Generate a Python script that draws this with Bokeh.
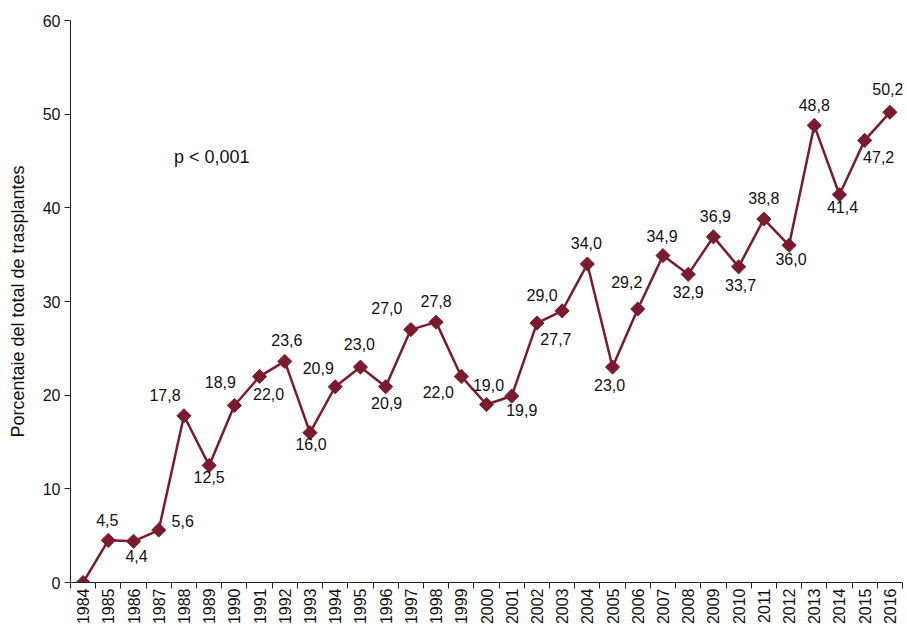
import numpy as np
from bokeh.plotting import figure
from bokeh.models import ColumnDataSource, Range1d, FixedTicker, Label
from bokeh.core.properties import value
from bokeh.embed import file_html
from bokeh.resources import INLINE

years = [1984, 1985, 1986, 1987, 1988, 1989, 1990, 1991, 1992, 1993, 1994,
         1995, 1996, 1997, 1998, 1999, 2000, 2001, 2002, 2003, 2004, 2005,
         2006, 2007, 2008, 2009, 2010, 2011, 2012, 2013, 2014, 2015, 2016]
percent = [0.0, 4.5, 4.4, 5.6, 17.8, 12.5, 18.9, 22.0, 23.6, 16.0, 20.9,
           23.0, 20.9, 27.0, 27.8, 22.0, 19.0, 19.9, 27.7, 29.0, 34.0, 23.0,
           29.2, 34.9, 32.9, 36.9, 33.7, 38.8, 36.0, 48.8, 41.4, 47.2, 50.2]
y_ticks = [0, 10, 20, 30, 40, 50, 60]
y_title = "Porcentaie del total de trasplantes"
p_value_text = "p < 0,001"

# label placement (screen pixel offsets), style only
label_dx = [0, -1, 3, 24, -19, 0, -14, 9, 2, 1, -17, -1, 1, -24, 0, -23, 2, 10,
            19, -20, -1, -3, -11, -1, 0, 2, 2, 0, 2, 0, 3, 14, -2]
label_dy = [0, -20, 15, -9, -21, 12, -23, 18, -21, 11, -19, -23, 16, -22, -21, 16, -20, 14,
            16, -16, -21, 18, -27, -20, 18, -21, 18, -21, 14, -20, 12, 17, -23]

labels = ["" if v == 0 else f"{v:.1f}".replace(".", ",") for v in percent]

COLOR = "#7A1B2E"
FONT = "Liberation Sans"

src = ColumnDataSource(dict(x=years, y=percent, lab=labels, dx=label_dx, dy=label_dy))

p = figure(width=905, height=627, output_backend="svg", toolbar_location=None,
           x_range=Range1d(years[0] - 0.5, years[-1] + 0.5),
           y_range=Range1d(y_ticks[0], y_ticks[-1]),
           min_border_left=70, min_border_top=20, min_border_right=3,
           min_border_bottom=10)
p.outline_line_color = None
p.xgrid.visible = False
p.ygrid.visible = False

p.line("x", "y", source=src, line_color=COLOR, line_width=2.5)
p.scatter("x", "y", source=src, marker="square", angle=np.pi / 4, size=10,
          fill_color=COLOR, line_color=COLOR)
p.text("x", "y", text="lab", source=src, x_offset="dx", y_offset="dy",
       text_align="center", text_baseline="middle",
       text_font=value(FONT), text_font_size="16px", text_color="#111111")

p.add_layout(Label(x=1989.1, y=45.4, text=p_value_text, text_align="center",
                   text_baseline="middle", text_font=FONT, text_font_size="18px",
                   text_color="#111111"))

# x axis
xa = p.xaxis[0]
xa.ticker = FixedTicker(ticks=years, minor_ticks=[y - 0.5 for y in years] + [years[-1] + 0.5])
xa.major_label_orientation = np.pi / 2
xa.major_tick_out = 0
xa.major_tick_in = 0
xa.minor_tick_out = 6
xa.minor_tick_in = 0
xa.minor_tick_line_color = "#222222"
xa.axis_line_color = "#222222"
xa.major_label_text_font = FONT
xa.major_label_text_font_size = "16px"
xa.major_label_text_color = "#111111"
xa.major_label_standoff = 0

ya = p.yaxis[0]
ya.ticker = FixedTicker(ticks=y_ticks)
ya.minor_tick_line_color = None
ya.major_tick_out = 6
ya.major_tick_in = 0
ya.axis_line_color = "#222222"
ya.major_tick_line_color = "#222222"
ya.major_label_text_font = FONT
ya.major_label_text_font_size = "16px"
ya.major_label_text_color = "#111111"
ya.major_label_standoff = 4
ya.axis_label = y_title
ya.axis_label_text_font = FONT
ya.axis_label_text_font_size = "18px"
ya.axis_label_text_font_style = "normal"
ya.axis_label_text_color = "#111111"
ya.axis_label_standoff = 12

open("out.html", "w").write(file_html(p, INLINE))
